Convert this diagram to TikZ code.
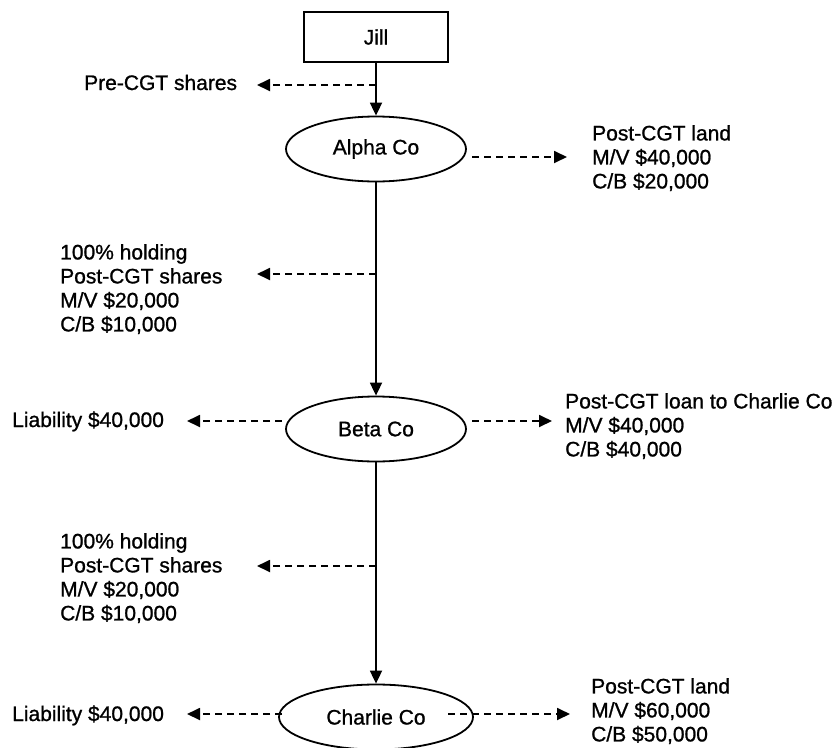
\documentclass[tikz,border=0pt]{standalone}
\usepackage{fontspec}
\setmainfont{Liberation Sans}
\newfontfamily\diagfont[FakeBold=1]{Liberation Sans}
\usetikzlibrary{arrows.meta,shapes.geometric}
\begin{document}
\begin{tikzpicture}[x=1pt,y=-1pt,
  every node/.style={font=\diagfont\fontsize{21}{24}\selectfont, inner sep=0pt},
  personbox/.style={draw, line width=1.8pt, minimum width=144pt, minimum height=50pt},
  company/.style={draw, ellipse, line width=1.8pt, minimum width=180pt, minimum height=65pt},
  label/.style={align=left, anchor=north west},
  single/.style={anchor=base west},
  own/.style={line width=1.8pt, -{Triangle[length=13pt,width=12pt]}},
  asset/.style={line width=1.8pt, dash pattern=on 7pt off 5pt, -{Triangle[length=13pt,width=12pt]}}]
\fill[white] (0,0) rectangle (838,747);
\useasboundingbox (0,0) rectangle (838,747);

% main nodes
\node[personbox] (jill) at (376,37) {Jill};
\node[company] (alpha) at (376,149) {Alpha Co};
\node[company] (beta) at (376,429) {Beta Co};
\node[company, minimum width=194pt] (charlie) at (376,717) {Charlie Co};

% labels
\node[single] (preshares) at (84,90) {Pre-CGT shares};
\node[label] (alphaland) at (592,125) {Post-CGT land\\M/V \$40,000\\C/B \$20,000};
\node[label] (betashares) at (60,244) {100\% holding\\Post-CGT shares\\M/V \$20,000\\C/B \$10,000};
\node[single] (betaliab) at (12,427) {Liability \$40,000};
\node[label] (betaloan) at (565,393) {Post-CGT loan to Charlie Co\\M/V \$40,000\\C/B \$40,000};
\node[label] (charlieshares) at (60,533) {100\% holding\\Post-CGT shares\\M/V \$20,000\\C/B \$10,000};
\node[single] (charlieliab) at (12,721) {Liability \$40,000};
\node[label] (charlieland) at (591,678) {Post-CGT land\\M/V \$60,000\\C/B \$50,000};

% ownership arrows
\draw[own] (jill.south) -- (alpha.north);
\draw[own] (alpha.south) -- (beta.north);
\draw[own] (beta.south) -- (charlie.north);

% branch points and arrow ends
\coordinate (b1) at (376,85);
\coordinate (e1) at (257,85);
\coordinate (b2) at (376,274);
\coordinate (e2) at (257,274);
\coordinate (b3) at (376,566);
\coordinate (e3) at (257,566);
\coordinate (a1s) at (472,157);
\coordinate (a1e) at (567,157);
\coordinate (bls) at (282,421);
\coordinate (ble) at (187,421);
\coordinate (brs) at (472,421);
\coordinate (bre) at (552,421);
\coordinate (cls) at (282,714);
\coordinate (cle) at (187,714);
\coordinate (crs) at (448,714);
\coordinate (cre) at (570,714);

\draw[asset] (b1) -- (e1);
\draw[asset] (b2) -- (e2);
\draw[asset] (b3) -- (e3);
\draw[asset] (a1s) -- (a1e);
\draw[asset] (bls) -- (ble);
\draw[asset] (brs) -- (bre);
\draw[asset] (cls) -- (cle);
\draw[asset] (crs) -- (cre);
\end{tikzpicture}
\end{document}
